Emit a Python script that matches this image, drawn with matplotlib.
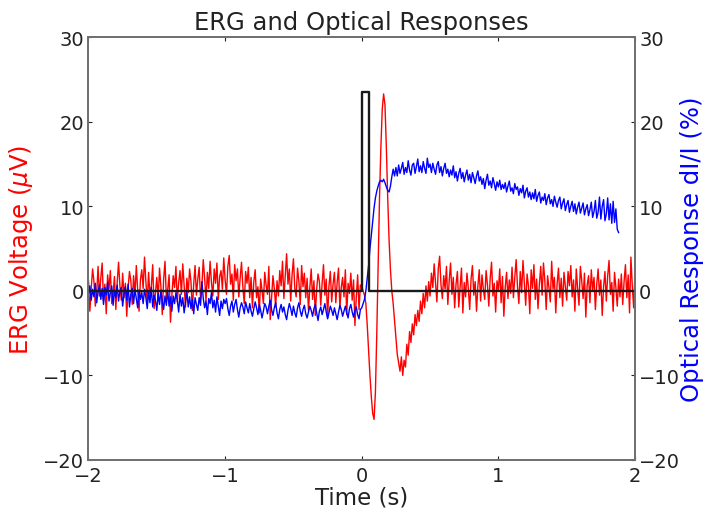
import numpy as np
import matplotlib
matplotlib.use("Agg")
import matplotlib.pyplot as plt

# ERG voltage (uV), sampled every 0.01 s from -2.00 to 2.00
erg_pre = [
    1.2, -2.4, 0.3, 2.6, 1.1, -1.8, -0.4, 2.9, -0.6, 1.5, 3.3, -1.2, 0.8, -2.7, 1.9, 0.2, 2.4, -1.5, -0.3, 1.7,
    -2.2, 1.0, 3.4, 0.6, -1.1, 2.1, -0.8, 0.9, -3.0, 0.4, 2.3, 1.2, -1.6, 1.8, -0.5, 3.0, 0.1, -2.4, 1.3, 2.5,
    0.3, 4.0, 1.1, -1.4, 2.2, -0.7, 0.6, 3.1, -2.1, -0.2, 1.6, -1.0, 2.7, 0.5, -2.8, 1.4, 3.5, -0.9, 0.2, 1.9,
    -3.7, -0.6, 1.8, 0.4, 2.9, -1.3, 1.0, 2.4, -0.4, 3.2, 0.7, -1.9, 1.5, -0.2, 2.6, 1.1, -2.3, 0.8, 3.0, -0.5,
    1.4, 2.8, -0.9, 0.6, 3.7, 1.5, -1.2, 2.2, 0.3, 3.5, 1.0, -0.6, 2.6, 0.9, 3.3, -1.0, 1.7, 2.4, 0.2, 3.9,
    1.3, -0.4, 2.9, 4.2, 0.8, 2.0, -1.1, 3.1, 1.2, 2.6, -0.7, 1.5, 3.4, 0.4, -1.5, 2.3, 0.9, 2.8, -0.8, 1.6,
    -2.0, 1.1, 2.5, -0.8, 0.5, -2.6, 1.4, 0.1, -1.5, 2.2, 0.7, -0.4, 2.9, -3.4, -0.7, 1.8, 0.3, -1.9, 1.2, -0.6,
    2.4, 0.6, 3.5, -0.9, 1.7, 4.4, 0.8, 2.6, -1.2, 1.9, 3.8, 0.3, -0.7, 2.7, 1.1, -1.6, 3.0, 0.5, 2.1, -0.8,
    1.5, -2.3, 0.4, 2.6, -1.0, 1.2, -2.9, 0.2, 2.0, 1.1, -1.7, 0.9, 3.1, -0.5, 1.4, -3.2, 0.6, 2.3, -1.3, 0.8,
    2.2, -1.4, 1.0, 2.7, -2.1, 0.4, 1.6, -0.7, 2.5, -2.8, 0.9, -0.3, 2.1, -1.1, 1.3, -4.1, -0.8, 1.9, -2.2, 0.7,
]
erg_response = [
    0.5, 0.0, -0.5, -1.5, -4.0, -7.0, -10.0, -12.5, -14.5, -15.2,
    -12.0, -5.0, 3.0, 11.0, 17.0, 21.5, 23.3, 22.0, 17.0, 11.0,
    6.0, 2.5, 0.0, -1.5, -3.5, -5.5, -7.5, -8.5, -9.5, -7.8,
    -10.0, -8.2, -9.0, -6.3, -7.6, -4.8, -6.1, -3.9, -5.2, -2.8,
    -4.1, -2.3, -3.6, -1.2, -2.7, -0.3, -2.0, 0.6, -1.2, 1.1,
]
erg_post = [
    -0.6, 2.1, 0.4, 3.2, 1.0, -1.3, 2.6, 4.1, 0.7, -0.9, 1.8, 0.2, 2.9, -1.6, 1.2, 3.3, -0.4, 1.6, -2.0, 0.8,
    2.3, -1.9, 0.5, 2.7, -2.6, 1.0, -0.7, 2.1, 0.3, -2.2, 1.4, 3.0, -0.5, 1.1, -2.4, 0.6, 2.5, -1.2, 1.9, 0.2,
    -1.0, 2.4, 0.7, -1.8, 1.5, 3.4, -0.6, 0.9, -2.5, 1.2, 0.1, 2.6, -1.4, 1.7, -3.0, 0.4, 2.2, -0.9, 1.3, -0.3,
    2.8, -0.8, 1.6, 3.7, 0.5, -1.5, 2.3, -0.2, 3.6, 1.0, -1.7, 2.0, 0.6, -2.7, 2.5, 0.3, 3.1, -1.0, 1.4, -2.1,
    0.8, 2.9, -0.5, 3.3, 1.2, -2.2, 1.8, 0.4, -1.3, 3.5, 0.2, 1.6, -2.6, 0.9, 2.7, -0.8, 1.5, -1.8, 2.2, 0.5,
    -1.1, 2.3, 0.6, 3.0, -0.7, 1.3, -2.4, 2.6, 0.3, -1.7, 2.9, 1.2, -0.9, 2.1, -3.1, 0.7, 1.8, -1.4, 2.5, 0.1,
    1.6, -2.2, 0.8, 2.6, -0.5, 1.3, -2.9, 0.5, 2.3, -1.2, 1.8, 3.6, -0.4, 1.0, -2.4, 2.2, 0.4, -1.8, 1.4, -0.7,
    2.0, -1.6, 1.1, 3.1, -0.8, 1.9, -2.6, 4.0, 0.6, -2.0, 2.2,
]

# Optical response dI/I (%), sampled every 0.01 s from -2.00 to 1.88
opt_pre = [
    -0.3, 0.6, -1.1, 0.2, -0.7, 0.9, -1.4, -0.1, 0.7, -1.0, 0.3, -1.6, 0.4, -0.5, 1.0, -1.2, -0.2, 0.6, -1.7, 0.1,
    -0.8, 0.7, -1.2, 0.0, 0.4, -1.8, -0.3, 0.5, -1.1, 0.8, -1.9, -0.4, 0.3, -1.5, 0.2, -0.9, -2.0, 0.1, -1.0, -0.2,
    -1.5, 0.2, -0.8, -2.1, -0.1, -1.4, 0.4, -1.9, -0.5, -1.1, -2.3, -0.3, -1.6, 0.1, -1.2, -2.2, -0.6, -1.7, 0.0, -1.8,
    -0.7, -2.4, -0.6, -1.5, -0.2, -1.1, -2.5, -0.4, -1.8, -0.8, -2.6, -1.3, 0.0, -1.9, -0.7, -2.1, -1.0, -2.7, -0.8, -1.6,
    -2.3, -0.8, -1.7, 1.1, -0.9, -2.0, -1.2, -2.8, -0.9, -1.5, -0.2, -2.0, -1.1, -2.5, -0.7, -1.8, -2.9, -1.2, -2.1, -1.0,
    -1.5, -0.9, -2.1, -2.9, -1.8, -1.2, -2.5, -1.6, -1.0, -2.2, -3.1, -2.0, -1.4, -1.9, -2.7, -1.3, -2.0, -2.6, -1.5, -2.4,
    -3.0, -2.1, -1.3, -2.0, -2.8, -1.6, -2.3, -3.2, -2.4, -1.5, -1.9, -2.7, -1.8, -1.1, -2.2, -2.9, -2.0, -1.4, -2.6, -3.3,
    -2.2, -1.6, -2.5, -1.9, -2.8, -3.4, -2.3, -1.5, -2.1, -2.9, -1.8, -2.6, -3.1, -2.0, -1.4, -2.4, -3.0, -2.2, -1.7, -2.7,
    -3.2, -2.5, -1.8, -2.3, -3.0, -2.1, -1.6, -2.6, -3.5, -2.4, -1.9, -2.8, -2.2, -1.5, -2.5, -3.3, -2.6, -1.8, -2.3, -2.9,
    -2.0, -2.7, -3.4, -2.5, -1.7, -2.2, -3.0, -2.4, -1.8, -2.6, -3.2, -2.1, -1.6, -2.5, -3.1, -2.3, -1.9, -2.8, -3.3, -2.2,
]
opt_rise = [
    -2.0, -1.5, -1.0, 0.0, 1.5, 3.0, 5.0, 6.6, 8.3, 9.8,
    11.0, 11.8, 12.4, 12.9, 13.1, 12.9, 13.2, 12.8, 12.3, 11.9,
    11.7, 12.4, 13.5, 14.4, 13.6,
]
opt_post = [
    14.6, 13.6, 14.9, 13.9, 14.5, 15.2, 13.8, 14.6, 14.0, 15.4, 14.3, 13.7, 14.9, 15.1, 13.9, 14.7, 15.6, 14.1, 14.8, 14.0,
    15.3, 14.5, 13.9, 15.7, 14.6, 15.0, 14.0, 15.1, 14.4, 13.8, 14.9, 15.3, 14.0, 14.7, 13.6, 14.5, 15.1, 13.9, 14.4, 13.5,
    14.3, 13.7, 14.8, 13.4, 14.1, 13.0, 13.9, 14.5, 13.3, 14.0, 12.9, 13.7, 14.3, 13.1, 13.8, 12.8, 14.0, 13.4, 12.7, 13.6,
    14.2, 13.0, 13.5, 12.6, 13.3, 12.1, 13.1, 13.8, 12.5, 13.0, 12.2, 13.4, 12.7, 11.9, 12.9, 12.3, 13.1, 12.0, 12.6, 12.1,
    12.8, 11.7, 12.4, 13.0, 11.8, 12.2, 11.5, 12.7, 12.0, 12.3, 11.3, 12.1, 11.6, 12.5, 11.0, 11.8, 12.2, 11.1, 11.7, 10.8,
    11.6, 10.9, 12.0, 10.6, 11.3, 11.7, 10.4, 11.1, 10.7, 11.5, 10.2, 11.0, 11.4, 10.3, 10.8, 10.0, 11.2, 10.5, 9.9, 10.7,
    11.1, 9.7, 10.4, 10.9, 9.5, 10.2, 10.7, 9.3, 10.0, 10.6, 9.4, 10.3, 9.1, 9.9, 10.5, 9.2, 9.8, 10.4, 9.0, 9.7,
    10.2, 8.9, 9.6, 10.5, 8.7, 9.4, 10.7, 8.6, 9.3, 11.1, 8.5, 10.0, 10.8, 8.3, 9.1, 11.0, 8.4, 10.3, 8.0, 10.6,
    8.1, 9.7, 7.3, 6.9,
]

# Stimulus trace (time in s, amplitude)
stim_t = [-2.0, 0.0, 0.0, 0.05, 0.05, 2.0]
stim_y = [0.0, 0.0, 23.5, 23.5, 0.0, 0.0]

dt = 0.01
erg = np.array(erg_pre + erg_response + erg_post)
opt = np.array(opt_pre + opt_rise + opt_post)
t_erg = -2.0 + dt * np.arange(len(erg))
t_opt = -2.0 + dt * np.arange(len(opt))

fig = plt.figure(figsize=(7.04, 5.10), dpi=100)
ax1 = fig.add_axes([0.1257, 0.0961, 0.7763, 0.8288])
ax2 = ax1.twinx()

ax1.plot(t_erg, erg, color='red', lw=1.0)
ax2.plot(t_opt, opt, color='blue', lw=1.0)
ax2.plot(stim_t, stim_y, color='#1a1a1a', lw=1.7)

for ax in (ax1, ax2):
    ax.set_xlim(-2, 2)
    ax.set_ylim(-20, 30)
    ax.set_yticks([-20, -10, 0, 10, 20, 30])
    ax.tick_params(direction='in', length=3, width=0.8, labelsize=14,
                   top=True, colors='#222222', pad=3)
    for s in ax.spines.values():
        s.set_color('#707070')
        s.set_linewidth(1.3)
ax1.set_xticks([-2, -1, 0, 1, 2])
ax1.tick_params(axis='x', pad=4)
ax1.tick_params(axis='y', right=False)
ax2.tick_params(axis='y', left=False)

ax1.set_xlabel('Time (s)', fontsize=16.5, labelpad=0.5, color='#222222')
ax1.set_ylabel(r'ERG Voltage ($\mu$V)', color='red', fontsize=17.5, labelpad=6)
ax2.set_ylabel('Optical Response dI/I (%)', color='blue', fontsize=17.5, labelpad=0)
ax1.set_title('ERG and Optical Responses', fontsize=17.5, pad=6, color='#222222')

fig.savefig('out.png', dpi=100, facecolor='white')
